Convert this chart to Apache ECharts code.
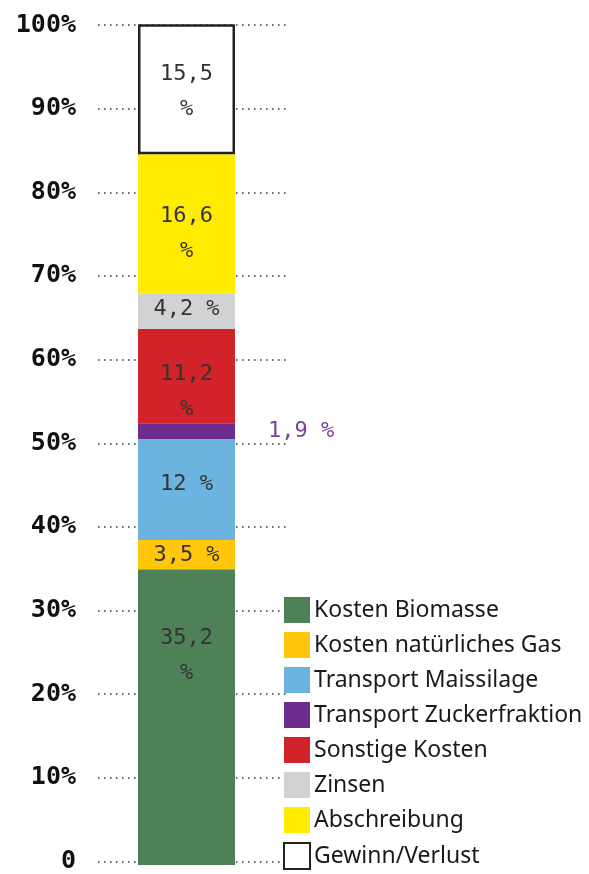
<!DOCTYPE html>
<html><head><meta charset="utf-8">
<script src="https://cdn.jsdelivr.net/npm/echarts@6/dist/echarts.min.js"></script>
<style>html,body{margin:0;padding:0;background:#fff}#c{width:589px;height:874px}</style>
</head><body><div id="c"></div>
<script>
const categories = ['Kosten'];
const seriesNames = ['Kosten Biomasse','Kosten natürliches Gas','Transport Maissilage','Transport Zuckerfraktion','Sonstige Kosten','Zinsen','Abschreibung','Gewinn/Verlust'];
const seriesValues = [35.2, 3.5, 12, 1.9, 11.2, 4.2, 16.6, 15.5];
const labelTexts = ['35,2\n%', '3,5 %', '12 %', '1,9 %', '11,2\n%', '4,2 %', '16,6\n%', '15,5\n%'];
const yTicks = [0,10,20,30,40,50,60,70,80,90,100];

const colors = ['#4f8157','#ffc60a','#6cb4e0','#6c2d8e','#d2232a','#d1d2d4','#ffec00','#ffffff'];
const labelOffsets = [[0,-61],[0,1],[0,-5],[0,0],[0,16],[0,-2],[0,10],[0,3]];

const chart = echarts.init(document.getElementById('c'), null, {renderer:'canvas'});
const series = seriesNames.map((n,i) => {
  const s = {
    name: n, type: 'bar', stack: 'a', xAxisIndex: 1, yAxisIndex: 1,
    barWidth: '100%',
    data: [seriesValues[i]],
    itemStyle: {color: colors[i]},
    label: {
      show: true, position: 'inside', offset: labelOffsets[i],
      formatter: () => labelTexts[i],
      fontFamily: 'DejaVu Sans Mono', fontSize: 22, lineHeight: 35, color: '#333'
    }
  };
  if (i === 3) {
    s.label.position = 'right'; s.label.offset = [0,0]; s.label.distance = 33; s.label.color = '#7b3f99';
  }
  if (i === 7) {
    s.itemStyle = {color:'#ffffff', borderColor:'#222', borderWidth: 2.5};
  }
  return s;
});

chart.setOption({
  animation: false,
  grid: [
    {left: 98, width: 192, top: 25, bottom: 9},
    {left: 138, width: 97, top: 25, bottom: 9}
  ],
  legend: {
    orient: 'vertical', left: 283, top: 597, height: 280, padding: 0,
    itemWidth: 26, itemHeight: 26, itemGap: 9,
    icon: 'rect',
    data: seriesNames,
    textStyle: {fontFamily: 'Noto Sans', fontSize: 23, color: '#1a1a1a', padding: [0,0,0,-1]}
  },
  xAxis: [
    {type: 'category', data: categories, gridIndex: 0, show: false},
    {type: 'category', data: categories, gridIndex: 1, show: false}
  ],
  yAxis: [
    {type: 'value', gridIndex: 0, min: 0, max: 100, interval: 10,
     axisLine: {show:false}, axisTick: {show:false},
     axisLabel: {margin: 22, fontFamily: 'DejaVu Sans Mono', fontWeight: 'bold', fontSize: 25, color: '#111',
       formatter: v => yTicks.includes(v) ? (v === 0 ? '0' : v + '%') : ''},
     splitLine: {show: true, lineStyle: {color: '#333', width: 1.5, type: [1.5, 4.5]}}
    },
    {type: 'value', gridIndex: 1, min: 0, max: 100, interval: 10, show: false, splitLine:{show:false}}
  ],
  series: series
});
</script></body></html>
